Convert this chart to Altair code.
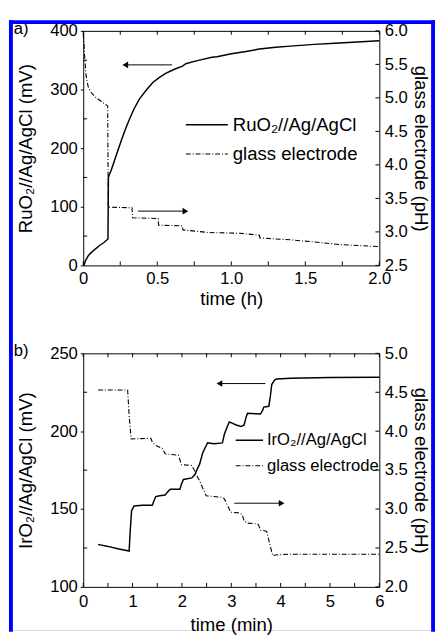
import altair as alt
import pandas as pd

FONT = "Liberation Sans"

# ---------------- panel a) : RuO2 electrode vs glass electrode (time in h)
ru_t = [0.005, 0.015, 0.033, 0.05, 0.077, 0.11, 0.14, 0.167, 0.170, 0.176,
        0.187, 0.21, 0.231, 0.26, 0.286, 0.31, 0.341, 0.38, 0.429, 0.47,
        0.517, 0.56, 0.62, 0.671, 0.693, 0.75, 0.8, 0.869, 0.904, 1.0,
        1.1, 1.19, 1.3, 1.4, 1.56, 1.7, 1.85, 2.0]
ru_mv = [0, 8, 16, 21, 27, 34, 39, 45, 150, 155,
         161, 178, 194, 215, 233, 248, 266, 284, 300, 312,
         321, 328, 335, 340, 344, 348, 351, 355, 356, 361,
         365, 369, 372, 374, 377, 379, 381, 383]
ga_t = [0.0, 0.004, 0.011, 0.02, 0.033, 0.05, 0.077, 0.12, 0.165, 0.169,
        0.33, 0.333, 0.506, 0.509, 0.67, 0.673, 0.85, 1.06, 1.19, 1.193,
        1.41, 1.56, 1.74, 2.0]
ga_ph = [5.95, 5.85, 5.56, 5.32, 5.17, 5.09, 5.02, 4.95, 4.88, 3.37,
         3.36, 3.21, 3.20, 3.10, 3.09, 3.03, 2.99, 2.98, 2.95, 2.91,
         2.88, 2.85, 2.81, 2.78]
a_arrow_left = [0.60, 0.284, 342]     # t from, t to (head), mV
a_arrow_right = [0.37, 0.69, 3.31]    # t from, t to (head), pH
a_x_ticks = [0, 0.25, 0.5, 0.75, 1.0, 1.25, 1.5, 1.75, 2.0]
a_x_labels = [0, 0.5, 1.0, 1.5, 2.0]
a_y_major = [0, 100, 200, 300, 400]
a_y_minor = [50, 150, 250, 350]
a_y2_ticks = [2.5, 3.0, 3.5, 4.0, 4.5, 5.0, 5.5, 6.0]
a_legend = ["RuO\u2082//Ag/AgCl", "glass electrode"]

# ---------------- panel b) : IrO2 electrode vs glass electrode (time in min)
ir_t = [0.30, 0.5, 0.7, 0.93, 0.95, 0.98, 1.03, 1.2, 1.4, 1.43,
        1.47, 1.55, 1.66, 1.71, 1.76, 1.96, 1.99, 2.03, 2.2, 2.26,
        2.3, 2.36, 2.42, 2.48, 2.52, 2.65, 2.82, 2.86, 2.92, 2.96,
        3.1, 3.2, 3.26, 3.3, 3.33, 3.59, 3.63, 3.66, 3.76, 3.79,
        3.82, 3.88, 3.92, 4.2, 5.0, 6.0]
ir_mv = [127.3, 126, 124.5, 123, 135, 149, 152, 152.5, 152.5, 155,
         158, 158.5, 159, 161, 162.7, 162.7, 166, 169, 170, 172,
         175, 179, 186, 190, 192.5, 192, 192.5, 198, 203, 206,
         204, 203, 204, 209, 211.5, 211, 213, 215.5, 216, 222,
         230, 233, 233.5, 234, 234.5, 234.6]
gb_t = [0.30, 0.90, 0.93, 0.97, 1.37, 1.40, 1.46, 1.6, 1.66, 1.93,
        1.99, 2.2, 2.25, 2.29, 2.36, 2.49, 2.82, 2.86, 2.92, 2.99,
        3.16, 3.22, 3.26, 3.32, 3.49, 3.55, 3.59, 3.68, 3.72, 3.78,
        3.84, 3.89, 4.2, 5.0, 6.0]
gb_ph = [4.53, 4.53, 4.2, 3.90, 3.91, 3.86, 3.82, 3.78, 3.71, 3.69,
         3.57, 3.56, 3.5, 3.44, 3.36, 3.17, 3.15, 3.13, 3.05, 2.96,
         2.95, 2.93, 2.85, 2.82, 2.81, 2.80, 2.73, 2.72, 2.71, 2.55,
         2.40, 2.41, 2.42, 2.42, 2.42]
b_arrow_left = [3.69, 2.76, 230.6]
b_arrow_right = [3.06, 4.02, 3.075]
b_x_ticks = [0, 0.5, 1, 1.5, 2, 2.5, 3, 3.5, 4, 4.5, 5, 5.5, 6]
b_x_labels = [0, 1, 2, 3, 4, 5, 6]
b_y_major = [100, 150, 200, 250]
b_y_minor = [125, 175, 225]
b_y2_ticks = [2.0, 2.5, 3.0, 3.5, 4.0, 4.5, 5.0]
b_legend = ["IrO\u2082//Ag/AgCl", "glass electrode"]

DASHDOT = [5, 2, 1, 2]


def one(label):
    return pd.DataFrame({"label": [label]})


def build_panel(t, v, gt, gv, xdom, ydom, y2dom, x_ticks, x_labels, x_fmt,
                y_major, y_minor, y2_ticks, xtitle, ytitle, arrowL, arrowR,
                legend, legend_geo, tag, W, H, xlabel_pad, xtitle_pad, frame):
    def xs():
        return alt.Scale(domain=xdom, nice=False, zero=False)

    def ys():
        return alt.Scale(domain=ydom, nice=False, zero=False)

    def y2s():
        return alt.Scale(domain=y2dom, nice=False, zero=False)

    df_e = pd.DataFrame({"t": t, "v": v, "i": list(range(len(t)))})
    df_g = pd.DataFrame({"t": gt, "v": gv, "i": list(range(len(gt)))})

    layers = []
    layers.append(alt.Chart(df_e).mark_line(color="black", strokeWidth=1.5).encode(
        x=alt.X("t:Q", scale=xs(), axis=alt.Axis(
            values=x_labels, labelExpr=x_fmt, title=xtitle, tickSize=0,
            domain=False, labelFlush=False, labelPadding=xlabel_pad,
            titlePadding=xtitle_pad, titleFontWeight="normal", orient="bottom")),
        y=alt.Y("v:Q", scale=ys(), axis=alt.Axis(
            values=y_major, title=ytitle, tickSize=3, domain=False,
            orient="left", labelPadding=3, titlePadding=15,
            titleFontWeight="normal")),
        order="i:Q",
    ))
    layers.append(alt.Chart(df_g).mark_line(color="black", strokeWidth=1.1,
                                            strokeDash=DASHDOT).encode(
        x=alt.X("t:Q", scale=xs(), axis=None),
        y=alt.Y("v:Q", scale=y2s(), axis=alt.Axis(
            values=y2_ticks, format=".1f", title="glass electrode (pH)",
            tickSize=0, domain=False, orient="right", labelPadding=5,
            titlePadding=3, titleFontWeight="normal")),
        order="i:Q",
    ))

    # inward ticks
    df_xt = pd.DataFrame({"t": x_ticks})
    layers.append(alt.Chart(df_xt).mark_rule(color="black", strokeWidth=1).encode(
        x=alt.X("t:Q", scale=xs(), axis=None), y=alt.value(H), y2=alt.value(H - 4)))
    layers.append(alt.Chart(df_xt).mark_rule(color="black", strokeWidth=1).encode(
        x=alt.X("t:Q", scale=xs(), axis=None), y=alt.value(0), y2=alt.value(4)))
    df_ym = pd.DataFrame({"v": y_minor})
    layers.append(alt.Chart(df_ym).mark_rule(color="black", strokeWidth=1).encode(
        y=alt.Y("v:Q", scale=ys(), axis=None), x=alt.value(0), x2=alt.value(4)))
    df_y2 = pd.DataFrame({"v": y2_ticks})
    layers.append(alt.Chart(df_y2).mark_rule(color="black", strokeWidth=1).encode(
        y=alt.Y("v:Q", scale=y2s(), axis=None), x=alt.value(W), x2=alt.value(W - 4)))

    # arrows
    for arrow, yscale, shape in [(arrowL, ys, "triangle-left"),
                                 (arrowR, y2s, "triangle-right")]:
        dfa = pd.DataFrame({"t0": [arrow[0]], "t1": [arrow[1]], "v": [arrow[2]]})
        layers.append(alt.Chart(dfa).mark_rule(color="black", strokeWidth=1).encode(
            x=alt.X("t0:Q", scale=xs(), axis=None), x2="t1:Q",
            y=alt.Y("v:Q", scale=yscale(), axis=None)))
        layers.append(alt.Chart(dfa).mark_point(shape=shape, filled=True,
                                                color="black", opacity=1,
                                                size=45).encode(
            x=alt.X("t1:Q", scale=xs(), axis=None),
            y=alt.Y("v:Q", scale=yscale(), axis=None)))

    # legend (manual)
    lx0, lx1, tx, ly0, ly1, lsize = legend_geo
    for k, (lab, yy) in enumerate(zip(legend, [ly0, ly1])):
        dash = [1, 0] if k == 0 else DASHDOT
        sw = 1.5 if k == 0 else 1.1
        layers.append(alt.Chart(one(lab)).mark_rule(
            color="black", strokeWidth=sw, strokeDash=dash).encode(
            x=alt.value(lx0), x2=alt.value(lx1), y=alt.value(yy)))
        layers.append(alt.Chart(one(lab)).mark_text(
            align="left", baseline="middle", fontSize=lsize, font=FONT,
            color="black").encode(text="label:N", x=alt.value(tx), y=alt.value(yy)))
    layers.append(alt.Chart(one(tag)).mark_text(
        align="left", baseline="middle", fontSize=17, font=FONT,
        color="black").encode(text="label:N", x=alt.value(-71), y=alt.value(-2)))

    if frame:
        blue = "#0000ff"
        for (x0, x1, y0, y1, col) in [(-76, -72, -11, 615, blue),
                                      (-76, 360, -11, -7, blue),
                                      (356, 360, -11, 615, blue),
                                      (-72, 356, 613, 614, "#c8c8f0")]:
            layers.append(alt.Chart(one("frame")).mark_rect(
                color=col, strokeWidth=0).encode(
                x=alt.value(x0), x2=alt.value(x1), y=alt.value(y0), y2=alt.value(y1)))

    return alt.layer(*layers).resolve_scale(x="independent", y="independent").properties(
        width=W, height=H)


panel_a = build_panel(
    ru_t, ru_mv, ga_t, ga_ph, [0, 2], [0, 400], [2.5, 6.0],
    a_x_ticks, a_x_labels, "datum.value == 0 ? '0' : format(datum.value, '.1f')",
    a_y_major, a_y_minor, a_y2_ticks, "time (h)", "RuO\u2082//Ag/AgCl (mV)",
    a_arrow_left, a_arrow_right, a_legend, (105, 148, 153, 96, 126, 19),
    "a)", 303, 240, 6, 3, True)

panel_b = build_panel(
    ir_t, ir_mv, gb_t, gb_ph, [0, 6], [100, 250], [2.0, 5.0],
    b_x_ticks, b_x_labels, "format(datum.value, 'd')",
    b_y_major, b_y_minor, b_y2_ticks, "time (min)", "IrO\u2082//Ag/AgCl (mV)",
    b_arrow_left, b_arrow_right, b_legend, (156, 184, 188, 89, 115, 17),
    "b)", 303, 239, 7, 7, False)

chart = alt.vconcat(panel_a, panel_b, spacing=90, bounds="flush").properties(
    padding={"left": 0, "top": 4, "right": 0, "bottom": 0},
    background="white",
).configure_view(
    stroke="black", strokeWidth=1
).configure_axis(
    labelFont=FONT, titleFont=FONT, labelFontSize=17, titleFontSize=19,
    labelColor="black", titleColor="black", titleFontWeight="normal",
    grid=False, tickColor="black", tickWidth=1
)

chart.save("out.html", embed_options={"renderer": "svg", "actions": False})
